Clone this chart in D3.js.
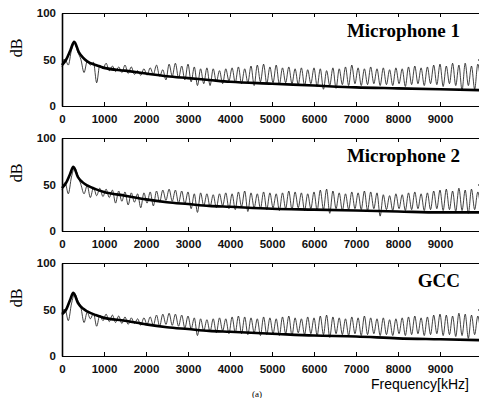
<!DOCTYPE html>
<html lang="en">

<head>
    <meta charset="UTF-8">
    <title>Spectrum</title>
    <style>
        body { margin: 0; background: #fff; }
        .thin { fill: none; stroke: #111; stroke-width: 0.8; }
        .env { fill: none; stroke: #000; stroke-width: 2.6; stroke-linejoin: round; }
        .tick text { font-family: "Liberation Sans", sans-serif; font-size: 11.5px; font-weight: bold; fill: #111; }
        .tick line { stroke: #000; }
        .domain { stroke: #000; }
    </style>
</head>

<body>
    <script src="https://d3js.org/d3.v7.min.js"></script>
    <script>
        // frequency bins of the thin spectrum (Hz)
        const binStep = 75;

        const titles = ['Microphone 1', 'Microphone 2', 'GCC'];
        const xTicks = [0, 1000, 2000, 3000, 4000, 5000, 6000, 7000, 8000, 9000];
        const yTicks = [0, 50, 100];

        // thick smoothed envelopes: [Hz, dB]
        const env1 = [[0, 44], [100, 50], [200, 60], [290, 69], [400, 58], [500, 52], [600, 48], [800, 44],
            [1000, 41], [1500, 38], [2000, 35], [2500, 32], [3000, 30], [3500, 28], [4000, 26], [5000, 24],
            [6000, 22], [7000, 20], [8000, 19], [9000, 18], [10000, 17]];
        const env2 = [[0, 46], [100, 52], [190, 61], [270, 69], [380, 58], [500, 52], [600, 49], [800, 45],
            [1000, 42], [1500, 38], [2000, 34], [2500, 31], [3000, 29], [3500, 27], [4000, 26], [5000, 24],
            [6000, 23], [7000, 22], [8000, 21], [9000, 20], [10000, 20]];
        const env3 = [[0, 45], [100, 50], [190, 60], [270, 68], [380, 57], [500, 51], [600, 48], [800, 44],
            [1000, 41], [1500, 38], [2000, 34], [2500, 31], [3000, 29], [3500, 27], [4000, 26], [5000, 24],
            [6000, 22], [7000, 21], [8000, 19], [9000, 18], [10000, 17]];

        // thin raw spectra, one value per bin (dB)
        const mic1 = [42, 50, 44, 60, 67, 58, 50, 36, 48, 44, 47, 25, 44, 40,
            46, 38, 43, 37, 42, 36, 44, 35, 42, 34, 38, 33, 40, 33,
            41, 34, 44, 32, 39, 28, 45, 32, 46, 30, 43, 28, 45, 26,
            42, 22, 40, 24, 41, 22, 40, 26, 38, 24, 40, 27, 41, 25,
            42, 24, 40, 25, 43, 22, 44, 26, 45, 24, 42, 25, 44, 23,
            41, 25, 42, 24, 40, 23, 41, 22, 39, 24, 41, 21, 40, 18,
            38, 22, 41, 19, 40, 23, 42, 22, 44, 24, 41, 22, 40, 23,
            42, 24, 40, 22, 41, 23, 39, 22, 41, 24, 40, 21, 42, 23,
            43, 24, 41, 22, 42, 24, 44, 23, 45, 21, 43, 24, 46, 22,
            44, 17, 46, 22, 43, 18, 45, 21];
        const mic2 = [44, 52, 40, 58, 68, 60, 50, 40, 49, 36, 47, 38, 46, 37,
            45, 36, 44, 30, 43, 32, 42, 28, 41, 31, 40, 25, 41, 30,
            42, 27, 43, 31, 44, 33, 45, 32, 44, 30, 43, 29, 42, 24,
            40, 20, 41, 27, 40, 26, 39, 25, 40, 27, 41, 24, 40, 23,
            42, 26, 43, 21, 41, 25, 40, 24, 42, 23, 41, 25, 40, 22,
            41, 24, 43, 23, 42, 25, 41, 22, 40, 24, 42, 22, 44, 23,
            45, 19, 43, 24, 41, 22, 40, 23, 42, 24, 41, 23, 43, 22,
            42, 24, 41, 16, 39, 23, 38, 22, 40, 24, 39, 22, 41, 23,
            42, 24, 40, 22, 41, 23, 43, 24, 44, 22, 45, 23, 43, 21,
            46, 22, 44, 19, 45, 23, 42, 20];
        const gcc = [44, 50, 38, 56, 67, 60, 52, 36, 47, 40, 46, 32, 44, 38,
            45, 37, 44, 36, 43, 35, 42, 34, 41, 35, 40, 33, 41, 34,
            42, 33, 44, 32, 45, 34, 46, 33, 45, 32, 44, 30, 43, 29,
            41, 22, 40, 27, 39, 26, 40, 25, 41, 27, 40, 24, 42, 25,
            43, 24, 42, 23, 41, 25, 40, 22, 42, 23, 41, 24, 40, 22,
            42, 24, 43, 22, 41, 25, 40, 23, 42, 24, 41, 22, 43, 23,
            44, 20, 42, 24, 41, 23, 40, 22, 42, 24, 41, 22, 43, 23,
            41, 24, 40, 22, 41, 23, 39, 22, 40, 24, 41, 22, 42, 23,
            43, 24, 41, 22, 42, 23, 44, 24, 45, 22, 44, 23, 43, 21,
            46, 22, 45, 19, 44, 23, 43, 20];

        const spectra = [mic1, mic2, gcc];
        const envelopes = [env1, env2, env3];

        const W = 479, H = 398;
        const margin = { left: 62, right: -3 };
        const panelTop = [13, 138, 263];
        const panelH = 93;

        const svg = d3.select('body').append('svg')
            .attr('width', W)
            .attr('height', H);

        const x = d3.scaleLinear()
            .domain([0, 10000])
            .range([margin.left, W - margin.right]);

        titles.forEach((title, p) => {
            const top = panelTop[p];
            const y = d3.scaleLinear().domain([0, 100]).range([top + panelH, top]);
            const g = svg.append('g');

            // data
            const thin = d3.line()
                .x((d, i) => x(i * binStep))
                .y((d) => y(d))
                .curve(d3.curveMonotoneX);
            g.append('path').datum(spectra[p]).attr('class', 'thin').attr('d', thin);

            const env = d3.line()
                .x((d) => x(d[0]))
                .y((d) => y(d[1]))
                .curve(d3.curveMonotoneX);
            g.append('path').datum(envelopes[p]).attr('class', 'env').attr('d', env);

            // axes, matlab style box with inward ticks
            g.append('g')
                .attr('transform', `translate(0,${top + panelH})`)
                .call(d3.axisBottom(x).tickValues(xTicks).tickFormat(d3.format('d'))
                    .tickSize(-4).tickPadding(9).tickSizeOuter(0));
            g.append('g')
                .attr('transform', `translate(0,${top})`)
                .call(d3.axisTop(x).tickValues(xTicks).tickSize(-4).tickFormat('').tickSizeOuter(0));
            g.append('g')
                .attr('transform', `translate(${margin.left},0)`)
                .call(d3.axisLeft(y).tickValues(yTicks).tickSize(-4).tickPadding(6).tickSizeOuter(0))
                .select('.domain').attr('stroke-width', 1.6);
            g.append('g')
                .attr('transform', `translate(${x(10000)},0)`)
                .call(d3.axisRight(y).tickValues(yTicks).tickSize(-4).tickFormat('').tickSizeOuter(0));

            g.append('text')
                .attr('transform', `translate(22,${top + 35}) rotate(-90)`)
                .attr('text-anchor', 'middle')
                .style('font-family', '"Liberation Serif", serif')
                .style('font-size', '16px')
                .text('dB');

            g.append('text')
                .attr('x', 460)
                .attr('y', top + 24)
                .attr('text-anchor', 'end')
                .style('font-family', '"Liberation Serif", serif')
                .style('font-size', '19px')
                .style('font-weight', 'bold')
                .text(title);
        });

        svg.append('text')
            .attr('x', 469)
            .attr('y', 389)
            .attr('text-anchor', 'end')
            .style('font-family', '"Liberation Sans", sans-serif')
            .style('font-size', '14px')
            .text('Frequency[kHz]');

        svg.append('text')
            .attr('x', 252)
            .attr('y', 397)
            .style('font-family', '"Liberation Serif", serif')
            .style('font-size', '9px')
            .text('(a)');
    </script>
</body>

</html>
